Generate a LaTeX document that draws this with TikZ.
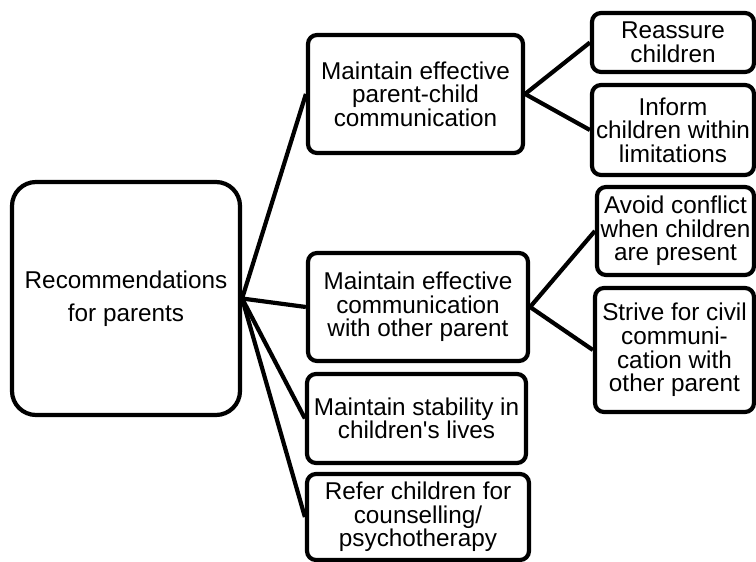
\documentclass[tikz,border=0pt]{standalone}
\usepackage{fontspec}
\setmainfont{Liberation Sans}[Ligatures=TeXOff]
\begin{document}
\begin{tikzpicture}[x=1pt,y=-1pt,
  box/.style={draw, line width=4.2pt, rounded corners=9pt, fill=white, align=center, inner sep=0pt,
    font=\fontsize{24.3}{23.6}\selectfont},
  rootbox/.style={box, rounded corners=24pt, font=\fontsize{24.3}{33}\selectfont},
  link/.style={line width=4.2pt}]
\useasboundingbox (0,0) rectangle (756,562);
\node[rootbox, minimum width=228pt, minimum height=233pt] (root) at (126,298.5) {Recommendations\\for parents};
\node[box, minimum width=215pt, minimum height=118pt] (a) at (415.5,94) {Maintain effective\\parent-child\\communication};
\node[box, minimum width=220pt, minimum height=108pt] (b) at (418,307) {Maintain effective\\communication\\with other parent};
\node[box, minimum width=219pt, minimum height=89pt] (c) at (416.5,418.5) {Maintain stability in\\children's lives};
\node[box, minimum width=222pt, minimum height=86pt] (d) at (418,517) {Refer children for\\counselling/\\psychotherapy};
\node[box, minimum width=162pt, minimum height=59pt] (a1) at (673,42.5) {Reassure\\children};
\node[box, minimum width=162pt, minimum height=90pt] (a2) at (673,130) {Inform\\children within\\limitations};
\node[box, minimum width=157pt, minimum height=88pt] (b1) at (675.5,231) {Avoid conflict\\when children\\are present};
\node[box, minimum width=159pt, minimum height=124pt] (b2) at (674.5,350) {Strive for civil\\communi-\\cation with\\other parent};
\draw[link] (root.east) -- (a.west);
\draw[link] (root.east) -- (b.west);
\draw[link] (root.east) -- (c.west);
\draw[link] (root.east) -- (d.west);
\draw[link] (a.east) -- (a1.west);
\draw[link] (a.east) -- (a2.west);
\draw[link] (b.east) -- (b1.west);
\draw[link] (b.east) -- (b2.west);
\end{tikzpicture}
\end{document}
